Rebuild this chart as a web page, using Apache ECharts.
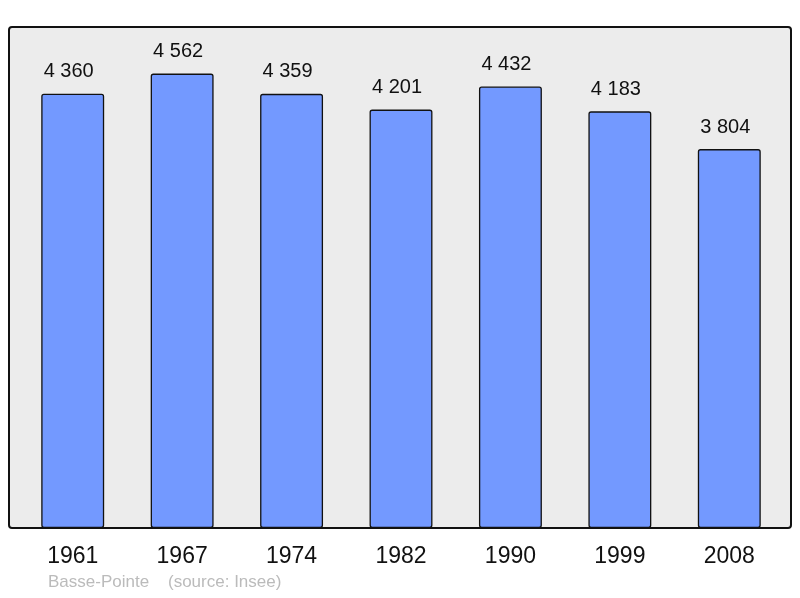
<!DOCTYPE html>
<html><head><meta charset="utf-8">
<script src="https://cdn.jsdelivr.net/npm/echarts@6/dist/echarts.min.js"></script>
<style>html,body{margin:0;padding:0;background:#fff}#c{width:800px;height:598px}</style>
</head><body><div id="c"></div>
<script>
const years = ['1961','1967','1974','1982','1990','1999','2008'];
const population = [4360, 4562, 4359, 4201, 4432, 4183, 3804];
const caption = 'Basse-Pointe    (source: Insee)';

const chart = echarts.init(document.getElementById('c'), null, {renderer:'canvas'});
const fmt = v => String(v).replace(/\B(?=(\d{3})+(?!\d))/g, ' ');
chart.setOption({
  animation:false,
  graphic:[
    {type:'rect', shape:{x:9,y:27,width:782,height:501,r:3}, style:{fill:'#ececec',stroke:'#111',lineWidth:2}, z:-10},
    {type:'text', left:48, top:574, style:{text:caption, fill:'#bbbbbb', font:'17px "Liberation Sans", Arial, sans-serif'}}
  ],
  grid:{left:18, right:16, top:30, bottom:70},
  xAxis:{type:'category', data:years, axisLine:{show:false}, axisTick:{show:false},
    axisLabel:{color:'#111', fontSize:23, margin:17, fontFamily:'"Liberation Sans", Arial, sans-serif'}},
  yAxis:{type:'value', min:0, max:5000, show:false, splitLine:{show:false}},
  series:[{type:'bar', data:population, barWidth:'57.5%',
    itemStyle:{color:'#7399ff', borderColor:'#111', borderWidth:1.3, borderRadius:2},
    label:{show:true, position:'top', distance:12, offset:[-4,0], color:'#111', fontSize:20,
      fontFamily:'"Liberation Sans", Arial, sans-serif', formatter:p=>fmt(p.value)}
  }]
});
</script></body></html>
